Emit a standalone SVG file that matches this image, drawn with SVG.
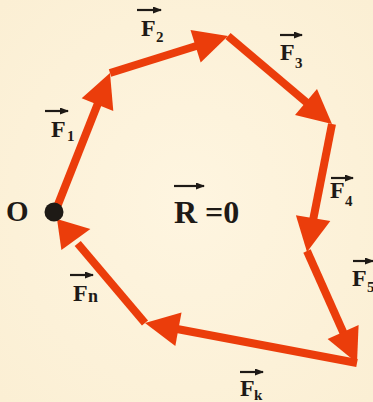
<svg xmlns="http://www.w3.org/2000/svg" width="373" height="402" viewBox="0 0 373 402">
<defs>
<radialGradient id="bg" cx="0.5" cy="0.5" r="0.7">
<stop offset="0" stop-color="#FEF5E0"/>
<stop offset="1" stop-color="#FBEFD4"/>
</radialGradient>
<marker id="vec" viewBox="0 0 9 7" refX="8" refY="3.5" markerWidth="9" markerHeight="7" markerUnits="userSpaceOnUse" orient="auto">
<path d="M0,0 L9,3.5 L0,7 Z" fill="#1E1A16"/>
</marker>
</defs>
<style>
.f{stroke:#EB3D0B;stroke-width:8;fill:none;stroke-linecap:butt}
.h{fill:#EB3D0B}
.t{font-family:"Liberation Serif","Times New Roman",serif;font-weight:bold;fill:#1E1A16}
.m{font-size:24px}
.s{font-size:15px}
.v{stroke:#1E1A16;stroke-width:2.2;marker-end:url(#vec)}
</style>
<rect width="373" height="402" fill="url(#bg)"/>
<g id="connectors">
<line class="f" x1="57" y1="207" x2="98.5" y2="102"/>
<polygon class="h" points="110,73 113.3,110.9 81.7,98.3"/>
<line class="f" x1="110" y1="73" x2="197" y2="45.7"/>
<polygon class="h" points="228,36 200.7,62.4 190.5,30"/>
<line class="f" x1="228" y1="36" x2="307.5" y2="103.3"/>
<polygon class="h" points="332,124 295,115 317,89"/>
<line class="f" x1="332" y1="124" x2="313.3" y2="219"/>
<polygon class="h" points="307,252 295.9,215.3 330.3,220.9"/>
<line class="f" x1="307" y1="251" x2="343.7" y2="333.3"/>
<polygon class="h" points="357,363 327.6,338.9 358.6,325.1"/>
<line class="f" x1="357" y1="363" x2="177" y2="329"/>
<polygon class="h" points="145,323 181.5,312.6 175.3,346"/>
<line class="f" x1="145" y1="323" x2="77.7" y2="243.5"/>
<polygon class="h" points="57,219 90.4,228.9 61.4,249.9"/>
</g>
<g id="O">
<circle cx="54" cy="212" r="9.5" fill="#1E1A16"/>
<text class="t" x="6" y="221" font-size="29">O</text>
</g>
<g id="F1">
<line class="v" x1="45" y1="111" x2="68" y2="111"/>
<text class="t m" x="51" y="137">F</text><text class="t s" x="67" y="141">1</text>
</g>
<g id="F2">
<line class="v" x1="137" y1="10" x2="161" y2="10"/>
<text class="t m" x="141" y="36">F</text><text class="t s" x="156" y="42">2</text>
</g>
<g id="F3">
<line class="v" x1="280" y1="35" x2="302" y2="35"/>
<text class="t m" x="280" y="60">F</text><text class="t s" x="295" y="68">3</text>
</g>
<g id="F4">
<line class="v" x1="331" y1="178" x2="353" y2="178"/>
<text class="t m" x="330" y="198">F</text><text class="t s" x="345" y="206">4</text>
</g>
<g id="F5">
<line class="v" x1="353" y1="261" x2="373" y2="261"/>
<text class="t m" x="352" y="286">F</text><text class="t s" x="367" y="292">5</text>
</g>
<g id="Fk">
<line class="v" x1="240" y1="372" x2="263" y2="372"/>
<text class="t m" x="240" y="396">F</text><text class="t s" x="254" y="400">k</text>
</g>
<g id="Fn">
<line class="v" x1="70" y1="275" x2="93" y2="275"/>
<text class="t m" x="73" y="301">F</text><text class="t" x="88" y="302" font-size="18">n</text>
</g>
<g id="R">
<line class="v" x1="174" y1="186" x2="204" y2="186"/>
<text class="t" x="174" y="223" font-size="32">R =0</text>
</g>
</svg>
